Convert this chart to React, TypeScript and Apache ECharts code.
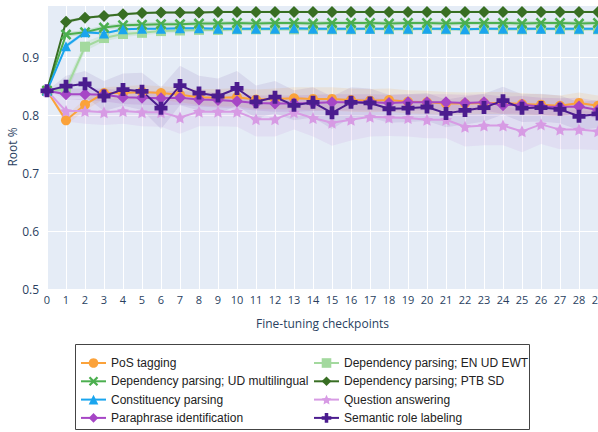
import React, { useEffect, useRef } from "react";
import * as echarts from "echarts";

const checkpoints = Array.from({ length: 30 }, (_, i) => String(i));

const posTagging = [0.842, 0.791, 0.818, 0.838, 0.838, 0.840, 0.838, 0.835, 0.831, 0.830, 0.831, 0.827, 0.828, 0.829, 0.828, 0.828, 0.826, 0.825, 0.826, 0.823, 0.822, 0.820, 0.820, 0.821, 0.821, 0.819, 0.818, 0.816, 0.821, 0.816];
const depEnUdEwt = [0.842, 0.845, 0.918, 0.933, 0.940, 0.942, 0.945, 0.946, 0.947, 0.947, 0.948, 0.948, 0.948, 0.948, 0.948, 0.948, 0.948, 0.949, 0.948, 0.948, 0.949, 0.948, 0.948, 0.949, 0.948, 0.948, 0.949, 0.948, 0.948, 0.948];
const depUdMulti = [0.842, 0.939, 0.943, 0.951, 0.955, 0.956, 0.957, 0.957, 0.958, 0.958, 0.959, 0.958, 0.959, 0.959, 0.958, 0.959, 0.959, 0.959, 0.958, 0.959, 0.959, 0.958, 0.959, 0.959, 0.959, 0.958, 0.959, 0.959, 0.958, 0.959];
const depPtbSd = [0.842, 0.961, 0.968, 0.971, 0.974, 0.976, 0.977, 0.977, 0.977, 0.978, 0.978, 0.978, 0.978, 0.978, 0.978, 0.978, 0.978, 0.978, 0.978, 0.978, 0.978, 0.978, 0.978, 0.978, 0.978, 0.978, 0.978, 0.978, 0.978, 0.978];
const constituency = [0.842, 0.919, 0.943, 0.941, 0.948, 0.949, 0.949, 0.950, 0.950, 0.949, 0.949, 0.949, 0.949, 0.950, 0.949, 0.949, 0.949, 0.949, 0.949, 0.949, 0.949, 0.949, 0.948, 0.949, 0.949, 0.949, 0.949, 0.949, 0.949, 0.949];
const questionAnswering = [0.842, 0.807, 0.807, 0.805, 0.807, 0.805, 0.805, 0.796, 0.806, 0.806, 0.806, 0.793, 0.793, 0.805, 0.795, 0.787, 0.792, 0.797, 0.796, 0.795, 0.792, 0.792, 0.780, 0.782, 0.782, 0.772, 0.784, 0.775, 0.775, 0.772];
const paraphrase = [0.842, 0.836, 0.836, 0.835, 0.831, 0.830, 0.829, 0.830, 0.827, 0.826, 0.824, 0.821, 0.820, 0.820, 0.821, 0.822, 0.822, 0.822, 0.821, 0.822, 0.822, 0.822, 0.821, 0.822, 0.817, 0.818, 0.815, 0.814, 0.815, 0.809];
const semanticRole = [0.842, 0.850, 0.854, 0.833, 0.844, 0.841, 0.812, 0.851, 0.838, 0.833, 0.846, 0.823, 0.831, 0.817, 0.822, 0.804, 0.822, 0.821, 0.811, 0.812, 0.814, 0.803, 0.808, 0.813, 0.825, 0.812, 0.813, 0.810, 0.798, 0.802];

// half-width of the shaded bands
const posSpread = [0, 0.008, 0.010, 0.010, 0.012, 0.012, 0.012, 0.013, 0.014, 0.015, 0.016, 0.017, 0.018, 0.019, 0.020, 0.020, 0.020, 0.020, 0.020, 0.020, 0.020, 0.020, 0.019, 0.019, 0.019, 0.019, 0.018, 0.018, 0.018, 0.018];
const ewtSpread = [0, 0.010, 0.008, 0.006, 0.005, 0.004, 0.004, 0.004, 0.003, 0.003, 0.003, 0.003, 0.003, 0.003, 0.003, 0.003, 0.003, 0.003, 0.003, 0.003, 0.003, 0.003, 0.003, 0.003, 0.003, 0.003, 0.003, 0.003, 0.003, 0.003];
const udSpread = [0, 0.004, 0.004, 0.004, 0.004, 0.004, 0.004, 0.004, 0.004, 0.004, 0.004, 0.004, 0.004, 0.004, 0.004, 0.004, 0.004, 0.004, 0.004, 0.004, 0.004, 0.004, 0.004, 0.004, 0.004, 0.004, 0.004, 0.004, 0.004, 0.004];
const ptbSpread = [0, 0.003, 0.002, 0.002, 0.002, 0.002, 0.002, 0.002, 0.002, 0.002, 0.002, 0.002, 0.002, 0.002, 0.002, 0.002, 0.002, 0.002, 0.002, 0.002, 0.002, 0.002, 0.002, 0.002, 0.002, 0.002, 0.002, 0.002, 0.002, 0.002];
const constSpread = [0, 0.004, 0.003, 0.002, 0.002, 0.002, 0.002, 0.002, 0.002, 0.002, 0.002, 0.002, 0.002, 0.002, 0.002, 0.002, 0.002, 0.002, 0.002, 0.002, 0.002, 0.002, 0.002, 0.002, 0.002, 0.002, 0.002, 0.002, 0.002, 0.002];
const qaSpread = [0, 0.018, 0.022, 0.022, 0.022, 0.024, 0.025, 0.028, 0.025, 0.025, 0.026, 0.030, 0.030, 0.030, 0.032, 0.040, 0.036, 0.034, 0.032, 0.032, 0.032, 0.032, 0.034, 0.034, 0.034, 0.036, 0.034, 0.034, 0.034, 0.032];
const paraSpread = [0, 0.010, 0.010, 0.011, 0.012, 0.012, 0.012, 0.012, 0.012, 0.013, 0.013, 0.013, 0.014, 0.014, 0.014, 0.014, 0.014, 0.014, 0.014, 0.014, 0.014, 0.014, 0.014, 0.014, 0.015, 0.015, 0.015, 0.015, 0.015, 0.015];
const srlSpread = [0, 0.018, 0.022, 0.026, 0.028, 0.032, 0.036, 0.034, 0.030, 0.030, 0.030, 0.028, 0.028, 0.026, 0.026, 0.028, 0.026, 0.025, 0.024, 0.024, 0.024, 0.024, 0.024, 0.024, 0.024, 0.024, 0.024, 0.024, 0.024, 0.024];

const names = [
  "PoS tagging",
  "Dependency parsing; EN UD EWT",
  "Dependency parsing; UD multilingual",
  "Dependency parsing; PTB SD",
  "Constituency parsing",
  "Question answering",
  "Paraphrase identification",
  "Semantic role labeling",
];

const X_PATH = "path://M-2,-3L0,-1L2,-3L3,-2L1,0L3,2L2,3L0,1L-2,3L-3,2L-1,0L-3,-2Z";
const PLUS_PATH = "path://M-1.1,-3H1.1V-1.1H3V1.1H1.1V3H-1.1V1.1H-3V-1.1H-1.1Z";
const STAR_PATH = "path://M0,-10L2.9,-4L9.5,-3.1L4.7,1.5L5.9,8.1L0,5L-5.9,8.1L-4.7,1.5L-9.5,-3.1L-2.9,-4Z";

type Spec = { name: string; data: number[]; spread: number[]; color: string; band: string; symbol: string; size: number };

const specs: Spec[] = [
  { name: names[0], data: posTagging, spread: posSpread, color: "#FBA23A", band: "rgba(251,162,58,0.14)", symbol: "circle", size: 10 },
  { name: names[1], data: depEnUdEwt, spread: ewtSpread, color: "#A3D99E", band: "rgba(163,217,158,0.25)", symbol: "rect", size: 10 },
  { name: names[2], data: depUdMulti, spread: udSpread, color: "#4CAF4F", band: "rgba(76,175,79,0.2)", symbol: X_PATH, size: 11 },
  { name: names[3], data: depPtbSd, spread: ptbSpread, color: "#386E23", band: "rgba(56,110,35,0.2)", symbol: "diamond", size: 12 },
  { name: names[4], data: constituency, spread: constSpread, color: "#1AA5EE", band: "rgba(26,165,238,0.2)", symbol: "triangle", size: 10 },
  { name: names[5], data: questionAnswering, spread: qaSpread, color: "#D79BE4", band: "rgba(200,150,225,0.16)", symbol: STAR_PATH, size: 12 },
  { name: names[6], data: paraphrase, spread: paraSpread, color: "#A646C6", band: "rgba(166,70,198,0.13)", symbol: "diamond", size: 12 },
  { name: names[7], data: semanticRole, spread: srlSpread, color: "#4B1C8F", band: "rgba(75,28,143,0.09)", symbol: PLUS_PATH, size: 13 },
];

export default function App() {
  const ref = useRef<HTMLDivElement>(null);
  useEffect(() => {
    if (!ref.current) return;
    const chart = echarts.init(ref.current, undefined, { renderer: "svg" });
    const series: any[] = [];
    specs.forEach((s, k) => {
      const lower = s.data.map((v, i) => +(v - s.spread[i]).toFixed(4));
      const width = s.spread.map((d) => +(2 * d).toFixed(4));
      series.push({
        type: "line",
        name: "band_lo_" + k,
        stack: "band" + k,
        data: lower,
        symbol: "none",
        lineStyle: { opacity: 0 },
        silent: true,
        z: 1,
      });
      series.push({
        type: "line",
        name: "band_w_" + k,
        stack: "band" + k,
        data: width,
        symbol: "none",
        lineStyle: { opacity: 0 },
        areaStyle: { color: s.band, opacity: 1 },
        silent: true,
        z: 1,
      });
    });
    specs.forEach((s) => {
      series.push({
        type: "line",
        name: s.name,
        data: s.data,
        symbol: s.symbol,
        symbolSize: s.size,
        showAllSymbol: true,
        itemStyle: { color: s.color },
        lineStyle: { color: s.color, width: 2 },
        z: 3,
      });
    });

    const legendCommon = {
      orient: "vertical",
      itemWidth: 25,
      itemHeight: 12,
      itemGap: 6.3,
      padding: 0,
      height: 80,
      textStyle: { fontFamily: "Liberation Sans", fontSize: 12, color: "#222" },
      selectedMode: false,
    };

    chart.setOption({
      animation: false,
      backgroundColor: "#fff",
      textStyle: { fontFamily: "Open Sans" },
      grid: {
        left: 47,
        right: 0,
        top: 5,
        bottom: 143,
        outerBoundsMode: "none",
        containLabel: false,
        show: true,
        backgroundColor: "#E5ECF6",
        borderWidth: 0,
      },
      xAxis: {
        type: "category",
        data: checkpoints,
        boundaryGap: false,
        name: "Fine-tuning checkpoints",
        nameLocation: "middle",
        nameGap: 28,
        nameMoveOverlap: false,
        nameTextStyle: { color: "#2a3f5f", fontSize: 12, fontFamily: "Open Sans" },
        axisLine: { show: false },
        axisTick: { show: false },
        axisLabel: { interval: 0, color: "#2a3f5f", fontSize: 11, margin: 5, fontFamily: "Open Sans" },
        splitLine: { show: true, interval: 0, lineStyle: { color: "#ffffff", width: 1 } },
      },
      yAxis: {
        type: "value",
        min: 0.5,
        max: 0.99,
        interval: 0.1,
        name: "Root %",
        nameLocation: "middle",
        nameGap: 29,
        nameMoveOverlap: false,
        nameTextStyle: { color: "#2a3f5f", fontSize: 12, fontFamily: "Open Sans" },
        axisLine: { show: false },
        axisTick: { show: false },
        axisLabel: { color: "#2a3f5f", fontSize: 12, margin: 8, showMaxLabel: false, fontFamily: "Open Sans", formatter: (v: number) => String(+v.toFixed(1)) },
        splitLine: { lineStyle: { color: "#ffffff", width: 1 } },
      },
      legend: [
        { ...legendCommon, left: 80, top: 357, data: [names[0], names[2], names[4], names[6]] },
        { ...legendCommon, left: 313, top: 357, data: [names[1], names[3], names[5], names[7]] },
      ],
      graphic: [
        {
          type: "rect",
          left: 75,
          top: 344,
          shape: { width: 454, height: 85 },
          style: { fill: "#fff", stroke: "#444", lineWidth: 1 },
          z: -1,
        },
      ],
      series,
    });
    return () => chart.dispose();
  }, []);
  return <div ref={ref} style={{ width: 598, height: 432, position: "absolute", left: 0, top: 0 }} />;
}
